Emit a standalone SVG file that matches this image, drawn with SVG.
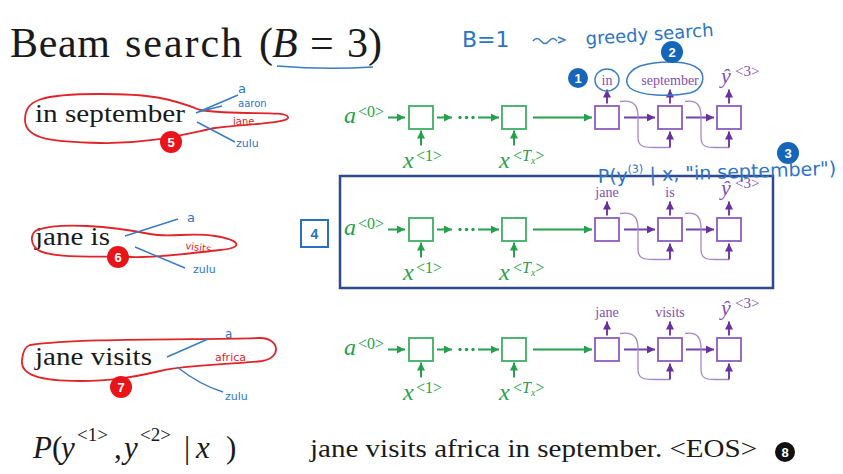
<svg xmlns="http://www.w3.org/2000/svg" width="843" height="474" viewBox="0 0 843 474">
<style>
.ser{font-family:"Liberation Serif",serif;fill:#1a1a1a}
.gi{font-family:"Liberation Serif",serif;font-style:italic;font-size:24px;fill:#27a04e}
.gs{font-family:"Liberation Serif",serif;font-size:16px;fill:#27a04e}
.gb{fill:#fff;stroke:#3fae62;stroke-width:1.8}
.pb{fill:#fff;stroke:#8a5cc0;stroke-width:1.8}
.gl{stroke:#27a04e;stroke-width:2;fill:none;marker-end:url(#ag)}
.pl{stroke:#7440aa;stroke-width:2;fill:none;marker-end:url(#ap)}
.pc{stroke:#a488c8;stroke-width:1.3;fill:none}
.pt{font-family:"Liberation Serif",serif;font-size:14px;fill:#8050b0;text-anchor:middle}
.yi{font-family:"Liberation Serif",serif;font-style:italic;font-size:22px;fill:#8050b0}
.ys{font-family:"Liberation Serif",serif;font-size:15px;fill:#8050b0}
.hw{font-family:"DejaVu Sans",sans-serif;fill:#2e74c4}
.hwr{font-family:"DejaVu Sans",sans-serif;fill:#e0252a}
.bl{stroke:#3a7cc0;stroke-width:1.5;fill:none}
.lasso{stroke:#e0252a;stroke-width:1.8;fill:none}
.nb{fill:#1565b8}
.nr{fill:#e8141a}
.nt{font-family:"Liberation Sans",sans-serif;font-size:13px;font-weight:bold;fill:#fff;text-anchor:middle}
</style>
<defs>
<marker id="ag" viewBox="0 0 8 8" refX="8" refY="4" markerWidth="8" markerHeight="8" markerUnits="userSpaceOnUse" orient="auto"><path d="M0,0 L8,4 L0,8 z" fill="#27a04e"/></marker>
<marker id="ap" viewBox="0 0 8 8" refX="8" refY="4" markerWidth="8" markerHeight="8" markerUnits="userSpaceOnUse" orient="auto"><path d="M0,0 L8,4 L0,8 z" fill="#6a2fa0"/></marker>
</defs>
<rect width="843" height="474" fill="#fff"/>

<!-- title -->
<g id="title">
<text class="ser" font-size="42" y="57"><tspan x="10" textLength="100">Beam</tspan><tspan x="125" textLength="117">search</tspan><tspan x="259">(</tspan><tspan x="272" font-style="italic">B</tspan><tspan x="310">=</tspan><tspan x="347">3</tspan><tspan x="368">)</tspan></text>
<path class="bl" d="M277,66 Q325,70 373,67"/>
</g>
<g id="greedy-note">
<text class="hw" x="462" y="47" font-size="22">B=1</text>
<path class="bl" d="M533,41 q4,-5 8,0 t8,0 t8,0 M558,37 l7,3 l-7,3"/>
<text class="hw" x="586" y="45" font-size="18" transform="rotate(-4 586 45)">greedy search</text>
</g>

<!-- row 1 left -->
<g id="cand1">
<text class="ser" x="35" y="122" font-size="26" textLength="150" lengthAdjust="spacingAndGlyphs">in september</text>
<path class="lasso" d="M200,110 C240,116 285,110 288,117 C290,124 240,124 215,128 C185,134 150,144 100,143 C55,142 25,140 25,120 C25,100 40,94 100,94 C150,94 170,98 200,110 Z"/>
<path class="bl" d="M196,113 L238,95 M198,112 L222,106 M197,122 L235,142"/>
<text class="hw" x="238" y="93" font-size="13">a</text>
<text class="hw" x="238" y="107" font-size="10">aaron</text>
<text class="hwr" x="233" y="125" font-size="10">jane</text>
<text class="hw" x="236" y="147" font-size="11">zulu</text>
<circle class="nr" cx="171" cy="142" r="11"/><text class="nt" x="171" y="147">5</text>
</g>

<!-- row 2 left -->
<g id="cand2">
<text class="ser" x="35" y="245" font-size="26" textLength="75" lengthAdjust="spacingAndGlyphs">jane is</text>
<path class="lasso" d="M37,230 C60,222 110,226 150,234 C170,238 190,232 215,236 C240,240 245,248 220,250 C190,253 160,258 130,257 C90,256 50,258 38,250 C30,244 30,234 37,230 Z"/>
<path class="bl" d="M125,236 L178,219 M135,247 L185,268"/>
<text class="hw" x="187" y="222" font-size="13">a</text>
<text class="hwr" x="185" y="249" font-size="10" transform="rotate(8 185 249)">visits</text>
<text class="hw" x="193" y="273" font-size="11">zulu</text>
<circle class="nr" cx="118" cy="257" r="11"/><text class="nt" x="118" y="262">6</text>
</g>

<!-- row 3 left -->
<g id="cand3">
<text class="ser" x="35" y="365" font-size="26" textLength="117" lengthAdjust="spacingAndGlyphs">jane visits</text>
<path class="lasso" d="M30,345 C80,338 200,340 260,338 C280,338 282,358 262,361 C230,365 190,364 160,371 C130,378 110,381 80,381 C40,381 20,375 22,360 C23,350 26,346 30,345 Z"/>
<path class="bl" d="M167,357 L208,339 M177,367 Q200,385 223,392"/>
<text class="hw" x="225" y="338" font-size="12">a</text>
<text class="hwr" x="215" y="361" font-size="11">africa</text>
<text class="hw" x="225" y="400" font-size="11">zulu</text>
<circle class="nr" cx="121" cy="387" r="11"/><text class="nt" x="121" y="392">7</text>
</g>

<!-- box 4 and frame -->
<g id="marker4">
<rect x="301" y="220" width="27" height="27" fill="#fff" stroke="#2a70c0" stroke-width="2"/>
<text x="314.5" y="239" font-family="Liberation Sans,sans-serif" font-size="14" font-weight="bold" fill="#2a70c0" text-anchor="middle">4</text>
</g>
<rect id="frame2" x="340" y="176" width="433" height="112" fill="none" stroke="#2f4a8a" stroke-width="2.5"/>

<!-- ROW 1 network -->
<g id="net1" transform="translate(0,117.5)">
<g id="n1-a0"><text class="gi" x="344" y="5">a</text><text class="gs" x="358" y="-1">&lt;0&gt;</text></g>
<g id="n1-e1"><rect class="gb" x="409" y="-11.5" width="24" height="23"/></g>
<g id="n1-x1"><text class="gi" x="403" y="50">x</text><text class="gs" x="416" y="43">&lt;1&gt;</text></g>
<g id="n1-dots" fill="#27a04e"><circle cx="460" cy="0" r="1.7"/><circle cx="466.5" cy="0" r="1.7"/><circle cx="473" cy="0" r="1.7"/></g>
<g id="n1-e2"><rect class="gb" x="502" y="-11.5" width="24" height="23"/></g>
<g id="n1-xT"><text class="gi" x="499" y="50">x</text><text class="gs" x="513" y="43">&lt;<tspan font-style="italic">T</tspan><tspan font-style="italic" font-size="10" dy="3">x</tspan><tspan dy="-3">&gt;</tspan></text></g>
<g id="n1-d1"><rect class="pb" x="595" y="-11.5" width="24" height="23"/></g>
<g id="n1-d2"><rect class="pb" x="658" y="-11.5" width="24" height="23"/></g>
<g id="n1-d3"><rect class="pb" x="717" y="-11.5" width="24" height="23"/></g>
<g id="n1-y1"><text class="pt" x="607" y="-33">in</text></g>
<g id="n1-y2"><text class="pt" x="670" y="-33">september</text></g>
<g id="n1-y3"><text class="yi" x="721" y="-35">ŷ</text><text class="ys" x="735" y="-42">&lt;3&gt;</text></g>
<g id="n1-conn">
<line class="gl" x1="388" y1="0" x2="405" y2="0"/>
<line class="gl" x1="421" y1="28" x2="421" y2="13"/>
<line class="gl" x1="437" y1="0" x2="452" y2="0"/>
<line class="gl" x1="478" y1="0" x2="499" y2="0"/>
<line class="gl" x1="514" y1="28" x2="514" y2="13"/>
<line class="gl" x1="533" y1="0" x2="592" y2="0"/>
<line class="pl" x1="624" y1="0" x2="655" y2="0"/>
<line class="pl" x1="686" y1="0" x2="714" y2="0"/>
<line class="pl" x1="607" y1="-14" x2="607" y2="-28"/>
<line class="pl" x1="670" y1="-14" x2="670" y2="-28"/>
<line class="pl" x1="729" y1="-14" x2="729" y2="-28"/>
<path class="pc" d="M620,-16 C636,-18 638,-10 638,0 L638,20 C638,30 645,30 655,30 L670,30"/>
<path class="pc" d="M685,-16 C699,-18 701,-10 701,0 L701,20 C701,30 708,30 715,30 L729,30"/>
<line class="pl" x1="670" y1="30" x2="670" y2="14"/>
<line class="pl" x1="729" y1="30" x2="729" y2="14"/>
</g>
</g>

<!-- row 1 annotations -->
<g id="ann1">
<ellipse class="bl" cx="607" cy="80" rx="12" ry="11"/>
<path class="bl" d="M640,66 C660,60 690,60 700,70 C706,78 702,90 690,93 C670,97 640,96 630,88 C624,82 626,72 640,66"/>
<circle class="nb" cx="578" cy="78" r="10"/><text class="nt" x="578" y="83">1</text>
<circle class="nb" cx="672" cy="52" r="11"/><text class="nt" x="672" y="57">2</text>
<circle class="nb" cx="788" cy="153" r="11"/><text class="nt" x="788" y="158">3</text>
</g>

<!-- ROW 2 network -->
<g id="net2" transform="translate(0,229.5)">
<g id="n2-a0"><text class="gi" x="344" y="5">a</text><text class="gs" x="358" y="-1">&lt;0&gt;</text></g>
<g id="n2-e1"><rect class="gb" x="409" y="-11.5" width="24" height="23"/></g>
<g id="n2-x1"><text class="gi" x="403" y="50">x</text><text class="gs" x="416" y="43">&lt;1&gt;</text></g>
<g id="n2-dots" fill="#27a04e"><circle cx="460" cy="0" r="1.7"/><circle cx="466.5" cy="0" r="1.7"/><circle cx="473" cy="0" r="1.7"/></g>
<g id="n2-e2"><rect class="gb" x="502" y="-11.5" width="24" height="23"/></g>
<g id="n2-xT"><text class="gi" x="499" y="50">x</text><text class="gs" x="513" y="43">&lt;<tspan font-style="italic">T</tspan><tspan font-style="italic" font-size="10" dy="3">x</tspan><tspan dy="-3">&gt;</tspan></text></g>
<g id="n2-d1"><rect class="pb" x="595" y="-11.5" width="24" height="23"/></g>
<g id="n2-d2"><rect class="pb" x="658" y="-11.5" width="24" height="23"/></g>
<g id="n2-d3"><rect class="pb" x="717" y="-11.5" width="24" height="23"/></g>
<g id="n2-y1"><text class="pt" x="607" y="-33">jane</text></g>
<g id="n2-y2"><text class="pt" x="670" y="-33">is</text></g>
<g id="n2-y3"><text class="yi" x="721" y="-35">ŷ</text><text class="ys" x="735" y="-42">&lt;3&gt;</text></g>
<g id="n2-conn">
<line class="gl" x1="388" y1="0" x2="405" y2="0"/>
<line class="gl" x1="421" y1="28" x2="421" y2="13"/>
<line class="gl" x1="437" y1="0" x2="452" y2="0"/>
<line class="gl" x1="478" y1="0" x2="499" y2="0"/>
<line class="gl" x1="514" y1="28" x2="514" y2="13"/>
<line class="gl" x1="533" y1="0" x2="592" y2="0"/>
<line class="pl" x1="624" y1="0" x2="655" y2="0"/>
<line class="pl" x1="686" y1="0" x2="714" y2="0"/>
<line class="pl" x1="607" y1="-14" x2="607" y2="-28"/>
<line class="pl" x1="670" y1="-14" x2="670" y2="-28"/>
<line class="pl" x1="729" y1="-14" x2="729" y2="-28"/>
<path class="pc" d="M620,-16 C636,-18 638,-10 638,0 L638,20 C638,30 645,30 655,30 L670,30"/>
<path class="pc" d="M685,-16 C699,-18 701,-10 701,0 L701,20 C701,30 708,30 715,30 L729,30"/>
<line class="pl" x1="670" y1="30" x2="670" y2="14"/>
<line class="pl" x1="729" y1="30" x2="729" y2="14"/>
</g>
</g>

<!-- handwritten probability -->
<g id="prob-note">
<text class="hw" x="598" y="183" font-size="19" transform="rotate(-2 598 183)">P(y<tspan font-size="11" dy="-9">(3)</tspan><tspan dy="9"> | x, "in september")</tspan></text>
</g>

<!-- ROW 3 network -->
<g id="net3" transform="translate(0,349.5)">
<g id="n3-a0"><text class="gi" x="344" y="5">a</text><text class="gs" x="358" y="-1">&lt;0&gt;</text></g>
<g id="n3-e1"><rect class="gb" x="409" y="-11.5" width="24" height="23"/></g>
<g id="n3-x1"><text class="gi" x="403" y="50">x</text><text class="gs" x="416" y="43">&lt;1&gt;</text></g>
<g id="n3-dots" fill="#27a04e"><circle cx="460" cy="0" r="1.7"/><circle cx="466.5" cy="0" r="1.7"/><circle cx="473" cy="0" r="1.7"/></g>
<g id="n3-e2"><rect class="gb" x="502" y="-11.5" width="24" height="23"/></g>
<g id="n3-xT"><text class="gi" x="499" y="50">x</text><text class="gs" x="513" y="43">&lt;<tspan font-style="italic">T</tspan><tspan font-style="italic" font-size="10" dy="3">x</tspan><tspan dy="-3">&gt;</tspan></text></g>
<g id="n3-d1"><rect class="pb" x="595" y="-11.5" width="24" height="23"/></g>
<g id="n3-d2"><rect class="pb" x="658" y="-11.5" width="24" height="23"/></g>
<g id="n3-d3"><rect class="pb" x="717" y="-11.5" width="24" height="23"/></g>
<g id="n3-y1"><text class="pt" x="607" y="-33">jane</text></g>
<g id="n3-y2"><text class="pt" x="670" y="-33">visits</text></g>
<g id="n3-y3"><text class="yi" x="721" y="-35">ŷ</text><text class="ys" x="735" y="-42">&lt;3&gt;</text></g>
<g id="n3-conn">
<line class="gl" x1="388" y1="0" x2="405" y2="0"/>
<line class="gl" x1="421" y1="28" x2="421" y2="13"/>
<line class="gl" x1="437" y1="0" x2="452" y2="0"/>
<line class="gl" x1="478" y1="0" x2="499" y2="0"/>
<line class="gl" x1="514" y1="28" x2="514" y2="13"/>
<line class="gl" x1="533" y1="0" x2="592" y2="0"/>
<line class="pl" x1="624" y1="0" x2="655" y2="0"/>
<line class="pl" x1="686" y1="0" x2="714" y2="0"/>
<line class="pl" x1="607" y1="-14" x2="607" y2="-28"/>
<line class="pl" x1="670" y1="-14" x2="670" y2="-28"/>
<line class="pl" x1="729" y1="-14" x2="729" y2="-28"/>
<path class="pc" d="M620,-16 C636,-18 638,-10 638,0 L638,20 C638,30 645,30 655,30 L670,30"/>
<path class="pc" d="M685,-16 C699,-18 701,-10 701,0 L701,20 C701,30 708,30 715,30 L729,30"/>
<line class="pl" x1="670" y1="30" x2="670" y2="14"/>
<line class="pl" x1="729" y1="30" x2="729" y2="14"/>
</g>
</g>

<!-- bottom -->
<g id="formula">
<text class="ser" font-size="31" y="458"><tspan x="33" font-style="italic">P</tspan><tspan x="52">(</tspan><tspan x="61" font-style="italic">y</tspan><tspan x="77" y="441" font-size="19">&lt;1&gt;</tspan><tspan x="114" y="458">,</tspan><tspan x="124" font-style="italic">y</tspan><tspan x="140" y="441" font-size="19">&lt;2&gt;</tspan><tspan x="184" y="458">|</tspan><tspan x="196" font-style="italic">x</tspan><tspan x="226">)</tspan></text>
</g>
<g id="final">
<text class="ser" x="310" y="457" font-size="25" textLength="447" lengthAdjust="spacingAndGlyphs">jane visits africa in september. &lt;EOS&gt;</text>
<circle cx="785" cy="452" r="10" fill="#111"/><text class="nt" x="785" y="457">8</text>
</g>
</svg>
